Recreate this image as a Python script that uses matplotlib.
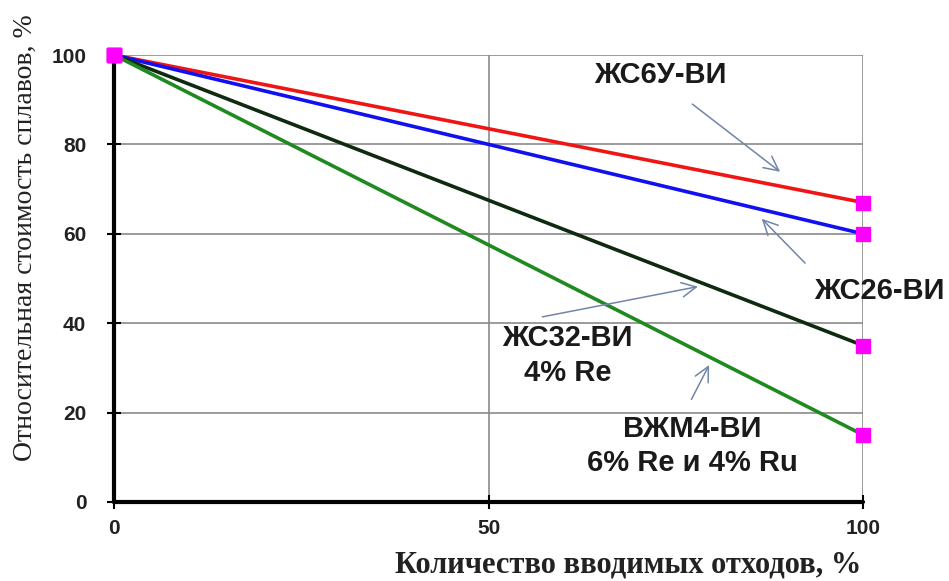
import matplotlib.pyplot as plt

# Стоимость сплавов в зависимости от доли отходов
waste = [0, 100]
zhs6u = [100, 67]
zhs26 = [100, 60]
zhs32 = [100, 35]
vzhm4 = [100, 15]

series = [
    (zhs6u, '#f01515'),
    (zhs26, '#1010f0'),
    (zhs32, '#0f2a10'),
    (vzhm4, '#1f8a1f'),
]

x_ticks = [0, 50, 100]
y_ticks = [0, 20, 40, 60, 80, 100]

fig = plt.figure(figsize=(9.49, 5.81), dpi=100)
ax = fig.add_axes([0.1202, 0.136, 0.7894, 0.7693])

ax.set_xlim(0, 100)
ax.set_ylim(0, 100)
ax.set_xticks(x_ticks)
ax.set_yticks(y_ticks)

# сетка
ax.grid(True, color='#8a8a8a', linewidth=1.2, zorder=0)
ax.set_axisbelow(True)

for vals, col in series:
    ax.plot(waste, vals, color=col, linewidth=2.6, zorder=3,
            solid_capstyle='butt')
for vals, col in series:
    ax.plot(waste, vals, linestyle='none', marker='s', markersize=9.5,
            color='#ff00ff', zorder=5, clip_on=False)

for side in ('top', 'right'):
    ax.spines[side].set_visible(False)
for side in ('left', 'bottom'):
    ax.spines[side].set_linewidth(3)
    ax.spines[side].set_zorder(4)
    ax.spines[side].set_capstyle('round')

ax.tick_params(axis='both', direction='inout', length=10, width=1.5,
               color='black')
ax.tick_params(axis='x', pad=7)
ax.tick_params(axis='y', pad=15)
for lbl in ax.get_xticklabels() + ax.get_yticklabels():
    lbl.set_fontfamily('Liberation Sans')
    lbl.set_fontweight('bold')
    lbl.set_fontsize(15)
    lbl.set_color('#222222')

ax.set_ylabel('Относительная стоимость сплавов, %', family='Liberation Serif',
              fontsize=20, color='#222222', va='center')
ax.yaxis.set_label_coords(-0.118, 0.592)
ax.set_xlabel('Количество вводимых отходов, %', family='Liberation Serif',
              fontsize=22, fontweight='bold', color='#222222', va='center')
ax.xaxis.set_label_coords(0.686, -0.141)

txt = dict(family='Liberation Sans', fontweight='bold', fontsize=21,
           color='#1a1a1a', ha='center', va='center')
arrow = dict(arrowstyle='->', color='#7085a8', lw=1.1, mutation_scale=26)

ax.text(72.9, 95.5, 'ЖС6У-ВИ', **txt)
ax.annotate('', xy=(89.2, 73.5), xytext=(76.9, 89.4), arrowprops=arrow)

ax.text(102.1, 47.3, 'ЖС26-ВИ', clip_on=False, **txt)
ax.annotate('', xy=(86.2, 63.8), xytext=(92.5, 53.0), arrowprops=arrow)

ax.text(60.5, 36.8, 'ЖС32-ВИ', **txt)
ax.text(60.5, 28.9, '4% Re', **txt)
ax.annotate('', xy=(78.3, 48.3), xytext=(56.8, 41.3), arrowprops=arrow)

ax.text(77.2, 16.4, 'ВЖМ4-ВИ', **txt)
ax.text(77.2, 8.7, '6% Re и 4% Ru', **txt)
ax.annotate('', xy=(79.6, 31.2), xytext=(76.9, 22.4), arrowprops=arrow)

fig.savefig('out.png', dpi=100)
